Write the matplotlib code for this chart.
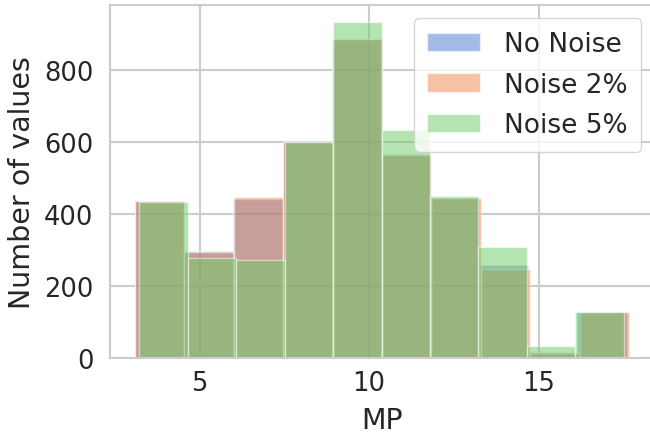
import numpy as np
import matplotlib
matplotlib.use("Agg")
import matplotlib.pyplot as plt
import seaborn as sns

#----- Data ----------------------------------------------------------------------------------

labels = ["No Noise", "Noise 2%", "Noise 5%"]

# bin range (min, max) of MP for each series, 10 equal bins each
range_no_noise = (3.10, 17.59)
range_noise_2 = (3.09, 17.67)
range_noise_5 = (3.225, 17.51)

counts_no_noise = [436, 298, 442, 601, 884, 565, 444, 259, 17, 128]
counts_noise_2 = [436, 294, 446, 600, 884, 562, 444, 246, 15, 128]
counts_noise_5 = [433, 277, 273, 600, 933, 632, 449, 308, 33, 127]

#----- Plot ----------------------------------------------------------------------------------

sns.set_theme(style="whitegrid", palette="muted")
plt.rcParams['font.family'] = ['DejaVu Sans']

fig = plt.figure(figsize=(6.5, 4.35), dpi=100)
ax = fig.add_axes([110/650, 76/435, 544/650, 353/435])

series = [(range_no_noise, counts_no_noise),
          (range_noise_2, counts_noise_2),
          (range_noise_5, counts_noise_5)]

for i, ((lo, hi), counts) in enumerate(series):
    edges = np.linspace(lo, hi, len(counts) + 1)
    ax.hist(edges[:-1], bins=edges, weights=counts, alpha=0.5,
            edgecolor="white", linewidth=1, label=labels[i])

ax.set_xticks([5, 10, 15])
ax.set_yticks([0, 200, 400, 600, 800])
ax.tick_params(axis="x", labelsize=18.5, length=0, pad=8.5)
ax.tick_params(axis="y", labelsize=18.5, length=0, pad=12)
ax.set_xlabel("MP", fontsize=20.5, labelpad=7)
ax.set_ylabel("Number of values", fontsize=20.5, labelpad=6)
ax.grid(linewidth=1.5)
for sp in ax.spines.values():
    sp.set_linewidth(1.5)

ax.legend(loc="upper right", fontsize=19, handlelength=2.0,
          handletextpad=0.9, labelspacing=0.55, borderpad=0.5)

fig.savefig("out.png", dpi=100)
